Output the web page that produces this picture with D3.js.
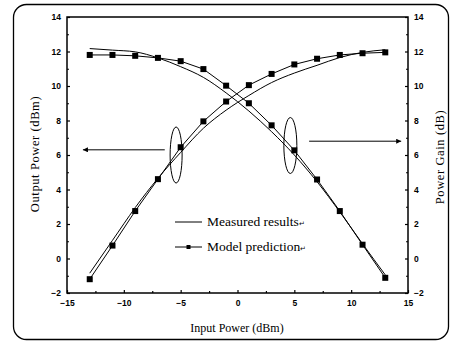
<!DOCTYPE html>
<html>
<head>
<meta charset="utf-8">
<script src="https://cdn.jsdelivr.net/npm/d3@7"></script>
<style>
  body { margin: 0; background: #fff; }
  .tick text { font-family: "Liberation Sans Narrow", "Liberation Sans", Arial, sans-serif; font-size: 8.5px; font-weight: bold; fill: #000; }
  .lbl { font-family: "Liberation Serif", "Times New Roman", serif; font-size: 12px; fill: #000; }
</style>
</head>
<body>
<div id="chart"></div>
<script>
// input power points (dBm)
var inputs = [-13, -11, -9, -7, -5, -3, -1, 1, 3, 5, 7, 9, 11, 13];

// output power (dBm)
var outModel    = [-1.2, 0.75, 2.75, 4.6, 6.45, 7.95, 9.1, 10.05, 10.7, 11.25, 11.58, 11.8, 11.9, 11.95];
var outMeasured = [-0.85, 1.05, 2.95, 4.65, 6.15, 7.55, 8.6, 9.45, 10.2, 10.75, 11.2, 11.65, 11.95, 12.1];

// power gain (dB)
var gainModel    = [11.8, 11.8, 11.75, 11.63, 11.44, 10.98, 10.02, 9.0, 7.72, 6.27, 4.58, 2.75, 0.8, -1.12];
var gainMeasured = [12.17, 12.08, 11.98, 11.63, 11.12, 10.5, 9.6, 8.55, 7.35, 6.0, 4.45, 2.7, 0.85, -0.95];

var xTicks = [-15, -10, -5, 0, 5, 10, 15];
var yTicks = [-2, 0, 2, 4, 6, 8, 10, 12, 14];

var WIDTH = 451;
var HEIGHT = 342;

var x = d3.scaleLinear().domain([-15, 15]).range([67, 408]);
var y = d3.scaleLinear().domain([-2, 14]).range([293, 17]);

var svg = d3.select('#chart')
  .append('svg')
    .attr('width', WIDTH)
    .attr('height', HEIGHT);

// outer rounded frame
svg.append('rect')
  .attr('x', 13.5).attr('y', 4.5)
  .attr('width', 435).attr('height', 335)
  .attr('rx', 13).attr('ry', 13)
  .attr('fill', 'none').attr('stroke', '#000').attr('stroke-width', 1.3);

// plot box
svg.append('rect')
  .attr('x', x(-15)).attr('y', y(14))
  .attr('width', x(15) - x(-15)).attr('height', y(-2) - y(14))
  .attr('fill', 'none').attr('stroke', '#000').attr('stroke-width', 1.5);

// minor ticks
var xMinor = d3.range(-12.5, 15, 5);
var yMinor = d3.range(-1, 14, 2);

var xAxis = d3.axisBottom(x).tickValues(xTicks).tickSizeInner(-3).tickSizeOuter(0).tickPadding(7)
  .tickFormat(d3.format('d'));
svg.append('g')
  .attr('class', 'x axis')
  .attr('transform', 'translate(0,' + y(-2) + ')')
  .call(xAxis);

svg.append('g')
  .attr('transform', 'translate(0,' + y(-2) + ')')
  .call(d3.axisBottom(x).tickValues(xMinor).tickSizeInner(-2).tickSizeOuter(0).tickFormat(''));

var yAxisL = d3.axisLeft(y).tickValues(yTicks).tickSizeInner(-3).tickSizeOuter(0).tickPadding(6);
svg.append('g')
  .attr('class', 'y axis')
  .attr('transform', 'translate(' + x(-15) + ',0)')
  .call(yAxisL);
svg.append('g')
  .attr('transform', 'translate(' + x(-15) + ',0)')
  .call(d3.axisLeft(y).tickValues(yMinor).tickSizeInner(-2).tickSizeOuter(0).tickFormat(''));

var yAxisR = d3.axisRight(y).tickValues(yTicks).tickSizeInner(-3).tickSizeOuter(0).tickPadding(6);
svg.append('g')
  .attr('class', 'y axis')
  .attr('transform', 'translate(' + x(15) + ',0)')
  .call(yAxisR);
svg.append('g')
  .attr('transform', 'translate(' + x(15) + ',0)')
  .call(d3.axisRight(y).tickValues(yMinor).tickSizeInner(-2).tickSizeOuter(0).tickFormat(''));

svg.selectAll('.domain').remove();
svg.selectAll('.tick line').attr('stroke-width', 1.2);

// curves
function pts(vals) { return inputs.map(function(d, i) { return [d, vals[i]]; }); }

var smooth = d3.line().x(function(d) { return x(d[0]); }).y(function(d) { return y(d[1]); })
  .curve(d3.curveMonotoneX);
var straight = d3.line().x(function(d) { return x(d[0]); }).y(function(d) { return y(d[1]); });

[outMeasured, gainMeasured].forEach(function(v) {
  svg.append('path').attr('d', smooth(pts(v)))
    .attr('fill', 'none').attr('stroke', '#000').attr('stroke-width', 1);
});
[outModel, gainModel].forEach(function(v) {
  svg.append('path').attr('d', straight(pts(v)))
    .attr('fill', 'none').attr('stroke', '#000').attr('stroke-width', 1);
  svg.append('g').selectAll('rect')
    .data(pts(v))
    .enter().append('rect')
      .attr('x', function(d) { return x(d[0]) - 3; })
      .attr('y', function(d) { return y(d[1]) - 3; })
      .attr('width', 6).attr('height', 6)
      .attr('fill', '#000');
});

// ellipses and arrows
var defs = svg.append('defs');
defs.append('marker')
  .attr('id', 'arr').attr('viewBox', '0 0 10 10')
  .attr('refX', 10).attr('refY', 5)
  .attr('markerWidth', 7).attr('markerHeight', 5)
  .attr('markerUnits', 'userSpaceOnUse')
  .attr('orient', 'auto')
  .append('path').attr('d', 'M0,0L10,5L0,10z').attr('fill', '#000');

svg.append('ellipse')
  .attr('cx', x(-5.4)).attr('cy', y(6.0)).attr('rx', 6).attr('ry', 28)
  .attr('fill', 'none').attr('stroke', '#000').attr('stroke-width', 1);
svg.append('ellipse')
  .attr('cx', x(4.65)).attr('cy', y(6.55)).attr('rx', 6.5).attr('ry', 28)
  .attr('fill', 'none').attr('stroke', '#000').attr('stroke-width', 1);

svg.append('line')
  .attr('x1', x(-6.4)).attr('y1', y(6.3)).attr('x2', x(-13.6)).attr('y2', y(6.3))
  .attr('stroke', '#000').attr('stroke-width', 1).attr('marker-end', 'url(#arr)');
svg.append('line')
  .attr('x1', x(6.3)).attr('y1', y(6.8)).attr('x2', x(14.4)).attr('y2', y(6.8))
  .attr('stroke', '#000').attr('stroke-width', 1).attr('marker-end', 'url(#arr)');

// legend
var lg = svg.append('g').attr('transform', 'translate(175,222)');
lg.append('line').attr('x1', 0).attr('x2', 27).attr('y1', 0).attr('y2', 0)
  .attr('stroke', '#000').attr('stroke-width', 1);
lg.append('text').attr('class', 'lbl').attr('x', 32).attr('y', 4).style('font-size', '13.5px')
  .text('Measured results').append('tspan').style('font-size', '7px').text('\u21b5');
lg.append('line').attr('x1', 0).attr('x2', 27).attr('y1', 25).attr('y2', 25)
  .attr('stroke', '#000').attr('stroke-width', 1);
lg.append('rect').attr('x', 11.5).attr('y', 23).attr('width', 4).attr('height', 4).attr('fill', '#000');
lg.append('text').attr('class', 'lbl').attr('x', 32).attr('y', 29).style('font-size', '13.5px')
  .text('Model prediction').append('tspan').style('font-size', '7px').text('\u21b5');

// axis titles
svg.append('text').attr('class', 'lbl')
  .attr('text-anchor', 'middle')
  .attr('x', 237).attr('y', 332)
  .text('Input Power (dBm)');
svg.append('text').attr('class', 'lbl')
  .attr('text-anchor', 'middle')
  .style('font-size', '12.5px').style('letter-spacing', '0.6px')
  .attr('transform', 'translate(39,154) rotate(-90)')
  .text('Output Power (dBm)');
svg.append('text').attr('class', 'lbl')
  .attr('text-anchor', 'middle')
  .style('font-size', '12.5px').style('letter-spacing', '0.6px')
  .attr('transform', 'translate(444,157) rotate(-90)')
  .text('Power Gain (dB)');
</script>
</body>
</html>
